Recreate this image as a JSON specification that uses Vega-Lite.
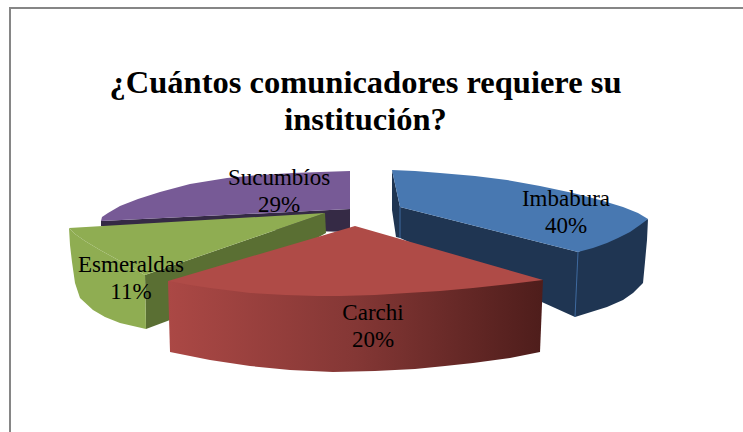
{
"$schema":"https://vega.github.io/schema/vega-lite/v6.json",
"width":743,"height":432,"padding":0,"autosize":"none",
"background":"#ffffff",
"view":{"stroke":null},
"title":{"text":["¿Cuántos comunicadores requiere su","institución?"],"anchor":"middle","font":"Liberation Serif","fontSize":32.5,"fontWeight":"bold","color":"#000000","lineHeight":37,"baseline":"alphabetic","offset":0,"dy":162,"dx":-6},
"datasets":{
"frame":[{"x":10,"y":432,"s":1},{"x":10,"y":8,"s":2},{"x":743,"y":8,"s":3}],
"edges":[{"edge":"a","s":1,"x":578,"y":252},{"edge":"a","s":2,"x":575,"y":317},{"edge":"b","s":1,"x":400,"y":207},{"edge":"b","s":2,"x":400,"y":238}],
"labels":[
{"label":"Imbabura\n40%","x":566,"y":206},
{"label":"Carchi\n20%","x":373,"y":320},
{"label":"Esmeraldas\n11%","x":131,"y":272},
{"label":"Sucumbíos\n29%","x":279,"y":185}],
"faces":[
{"part":"a blue side","s":1,"x":392,"y":170},{"part":"a blue side","s":2,"x":392,"y":210},{"part":"a blue side","s":3,"x":396,"y":237},{"part":"a blue side","s":4,"x":400,"y":238},{"part":"a blue side","s":5,"x":575,"y":317},{"part":"a blue side","s":6,"x":607,"y":307},{"part":"a blue side","s":7,"x":623,"y":300},{"part":"a blue side","s":8,"x":633,"y":293},{"part":"a blue side","s":9,"x":643,"y":283},{"part":"a blue side","s":10,"x":645,"y":262},{"part":"a blue side","s":11,"x":647,"y":240},{"part":"a blue side","s":12,"x":648,"y":219},{"part":"a blue side","s":13,"x":578,"y":252},{"part":"a blue side","s":14,"x":400,"y":207},
{"part":"b blue top","s":1,"x":392,"y":170},{"part":"b blue top","s":2,"x":415,"y":171},{"part":"b blue top","s":3,"x":440,"y":173},{"part":"b blue top","s":4,"x":475,"y":176},{"part":"b blue top","s":5,"x":507,"y":180},{"part":"b blue top","s":6,"x":540,"y":186},{"part":"b blue top","s":7,"x":573,"y":193},{"part":"b blue top","s":8,"x":600,"y":200},{"part":"b blue top","s":9,"x":623,"y":207},{"part":"b blue top","s":10,"x":638,"y":213},{"part":"b blue top","s":11,"x":648,"y":219},{"part":"b blue top","s":12,"x":640,"y":225},{"part":"b blue top","s":13,"x":630,"y":232},{"part":"b blue top","s":14,"x":618,"y":238},{"part":"b blue top","s":15,"x":607,"y":243},{"part":"b blue top","s":16,"x":593,"y":248},{"part":"b blue top","s":17,"x":578,"y":252},{"part":"b blue top","s":18,"x":400,"y":207},
{"part":"c purple side","s":1,"x":101,"y":221},{"part":"c purple side","s":2,"x":350,"y":209},{"part":"c purple side","s":3,"x":350,"y":232},{"part":"c purple side","s":4,"x":101,"y":226},
{"part":"d purple top","s":1,"x":350,"y":171},{"part":"d purple top","s":2,"x":320,"y":172},{"part":"d purple top","s":3,"x":293,"y":173},{"part":"d purple top","s":4,"x":260,"y":175},{"part":"d purple top","s":5,"x":227,"y":178},{"part":"d purple top","s":6,"x":190,"y":184},{"part":"d purple top","s":7,"x":160,"y":192},{"part":"d purple top","s":8,"x":138,"y":199},{"part":"d purple top","s":9,"x":120,"y":206},{"part":"d purple top","s":10,"x":108,"y":213},{"part":"d purple top","s":11,"x":102,"y":217},{"part":"d purple top","s":12,"x":101,"y":221},{"part":"d purple top","s":13,"x":350,"y":209},
{"part":"e green inner","s":1,"x":325,"y":213},{"part":"e green inner","s":2,"x":326,"y":233},{"part":"e green inner","s":3,"x":170,"y":320},{"part":"e green inner","s":4,"x":146,"y":329},{"part":"e green inner","s":5,"x":145,"y":275},
{"part":"f green outer","s":1,"x":69,"y":228},{"part":"f green outer","s":2,"x":70,"y":245},{"part":"f green outer","s":3,"x":72,"y":262},{"part":"f green outer","s":4,"x":75,"y":283},{"part":"f green outer","s":5,"x":80,"y":298},{"part":"f green outer","s":6,"x":93,"y":310},{"part":"f green outer","s":7,"x":105,"y":317},{"part":"f green outer","s":8,"x":120,"y":323},{"part":"f green outer","s":9,"x":146,"y":329},{"part":"f green outer","s":10,"x":145,"y":275},{"part":"f green outer","s":11,"x":120,"y":261},{"part":"f green outer","s":12,"x":100,"y":250},{"part":"f green outer","s":13,"x":85,"y":241},{"part":"f green outer","s":14,"x":75,"y":234},
{"part":"g green top","s":1,"x":69,"y":228},{"part":"g green top","s":2,"x":325,"y":213},{"part":"g green top","s":3,"x":145,"y":275},{"part":"g green top","s":4,"x":120,"y":261},{"part":"g green top","s":5,"x":100,"y":250},{"part":"g green top","s":6,"x":85,"y":241},{"part":"g green top","s":7,"x":75,"y":234},
{"part":"h red side","s":1,"x":168,"y":281},{"part":"h red side","s":2,"x":170,"y":352},{"part":"h red side","s":3,"x":210,"y":360},{"part":"h red side","s":4,"x":250,"y":366},{"part":"h red side","s":5,"x":290,"y":370},{"part":"h red side","s":6,"x":333,"y":372},{"part":"h red side","s":7,"x":375,"y":371},{"part":"h red side","s":8,"x":415,"y":369},{"part":"h red side","s":9,"x":445,"y":366},{"part":"h red side","s":10,"x":473,"y":363},{"part":"h red side","s":11,"x":510,"y":358},{"part":"h red side","s":12,"x":540,"y":352},{"part":"h red side","s":13,"x":543,"y":280},
{"part":"i red top","s":1,"x":355,"y":226},{"part":"i red top","s":2,"x":168,"y":281},{"part":"i red top","s":3,"x":190,"y":285},{"part":"i red top","s":4,"x":210,"y":288},{"part":"i red top","s":5,"x":250,"y":293},{"part":"i red top","s":6,"x":285,"y":295},{"part":"i red top","s":7,"x":317,"y":296},{"part":"i red top","s":8,"x":340,"y":296},{"part":"i red top","s":9,"x":375,"y":295},{"part":"i red top","s":10,"x":407,"y":293},{"part":"i red top","s":11,"x":440,"y":291},{"part":"i red top","s":12,"x":473,"y":288},{"part":"i red top","s":13,"x":510,"y":284},{"part":"i red top","s":14,"x":543,"y":280}
]},
"layer":[
{"data":{"name":"faces"},"transform":[{"filter":"datum.part !== 'h red side' && datum.part !== 'i red top'"}],
"mark":{"type":"line","strokeWidth":0,"interpolate":"linear"},
"encoding":{
"x":{"field":"x","type":"quantitative","scale":{"domain":[0,743]},"axis":null},
"y":{"field":"y","type":"quantitative","scale":{"domain":[432,0]},"axis":null},
"order":{"field":"s","type":"quantitative"},
"fill":{"field":"part","type":"nominal","legend":null,"scale":{"domain":["a blue side","b blue top","c purple side","d purple top","e green inner","f green outer","g green top"],"range":["#1f3552","#4878b1","#352a45","#775a96","#5a6f33","#8fad52","#8fad52"]}}}},
{"data":{"name":"edges"},"mark":{"type":"line","stroke":"#3f6a9f","strokeWidth":1},
"encoding":{"x":{"field":"x","type":"quantitative","scale":{"domain":[0,743]},"axis":null},"y":{"field":"y","type":"quantitative","scale":{"domain":[432,0]},"axis":null},"order":{"field":"s","type":"quantitative"},"detail":{"field":"edge"}}},
{"data":{"name":"faces"},"transform":[{"filter":"datum.part === 'h red side'"}],
"mark":{"type":"line","strokeWidth":0,"fill":{"gradient":"linear","x1":0,"y1":0,"x2":1,"y2":0,"stops":[{"offset":0,"color":"#ab4845"},{"offset":0.5,"color":"#843735"},{"offset":1,"color":"#4e1d1b"}]}},
"encoding":{"x":{"field":"x","type":"quantitative","scale":{"domain":[0,743]},"axis":null},"y":{"field":"y","type":"quantitative","scale":{"domain":[432,0]},"axis":null},"order":{"field":"s","type":"quantitative"}}},
{"data":{"name":"faces"},"transform":[{"filter":"datum.part === 'i red top'"}],
"mark":{"type":"line","strokeWidth":0,"fill":"#af4b47"},
"encoding":{"x":{"field":"x","type":"quantitative","scale":{"domain":[0,743]},"axis":null},"y":{"field":"y","type":"quantitative","scale":{"domain":[432,0]},"axis":null},"order":{"field":"s","type":"quantitative"}}},
{"data":{"name":"frame"},"mark":{"type":"line","stroke":"#868686","strokeWidth":2},
"encoding":{"x":{"field":"x","type":"quantitative","scale":{"domain":[0,743]},"axis":null},"y":{"field":"y","type":"quantitative","scale":{"domain":[432,0]},"axis":null},"order":{"field":"s","type":"quantitative"}}},
{"data":{"name":"labels"},"mark":{"type":"text","font":"Liberation Serif","fontSize":23,"color":"#000000","align":"center","baseline":"alphabetic","lineBreak":"\n","lineHeight":27},
"encoding":{"x":{"field":"x","type":"quantitative","scale":{"domain":[0,743]},"axis":null},"y":{"field":"y","type":"quantitative","scale":{"domain":[432,0]},"axis":null},"text":{"field":"label"}}}
]
}
